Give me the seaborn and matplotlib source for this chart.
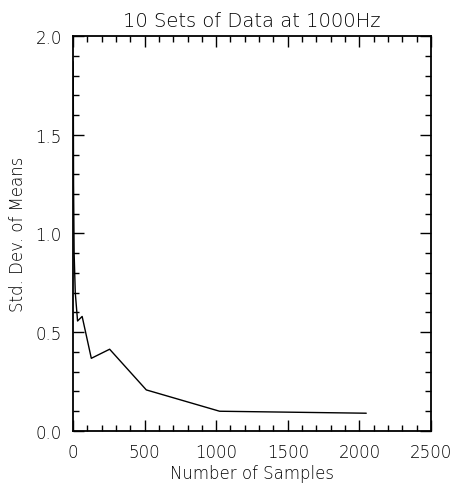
import numpy as np
import pandas as pd
import matplotlib
matplotlib.use("Agg")
import matplotlib.pyplot as plt
import seaborn as sns
from matplotlib.ticker import MultipleLocator, FormatStrFormatter

# number of samples averaged, and std dev of the 10 means
n_samples = [1, 2, 4, 8, 16, 32, 64, 128, 256, 512, 1024, 2048]
std_means = [1.87, 1.79, 1.25, 0.90, 0.70, 0.557, 0.58, 0.368, 0.414, 0.208, 0.10, 0.09]

data = pd.DataFrame({"n": n_samples, "sd": std_means})

sns.set_style("ticks")
plt.rcParams['font.family'] = ['DejaVu Sans']
plt.rcParams['font.weight'] = 'light'

fig = plt.figure(figsize=(4.55, 4.85), dpi=100)
ax = fig.add_axes([0.1604, 0.1093, 0.7868, 0.8144])

sns.lineplot(data=data, x="n", y="sd", color="black", linewidth=1.0, ax=ax)

ax.set_xlim(0, 2500)
ax.set_ylim(0, 2.0)
ax.xaxis.set_major_locator(MultipleLocator(500))
ax.xaxis.set_minor_locator(MultipleLocator(100))
ax.yaxis.set_major_locator(MultipleLocator(0.5))
ax.yaxis.set_minor_locator(MultipleLocator(0.1))
ax.yaxis.set_major_formatter(FormatStrFormatter('%.1f'))

ax.tick_params(which='both', top=True, right=True, direction='in',
               color='black', labelsize=12, labelcolor='black')
ax.tick_params(which='major', length=8, width=1.0)
ax.tick_params(axis='x', which='major', pad=9)
ax.tick_params(axis='y', which='major', pad=8)
ax.tick_params(which='minor', length=4, width=1.0)
for s in ax.spines.values():
    s.set_linewidth(1.3)
    s.set_color('black')

ax.set_xlabel("Number of Samples", fontsize=12, color='black', labelpad=2,
              fontweight='light')
ax.set_ylabel("Std. Dev. of Means", fontsize=12, color='black', labelpad=6,
              fontweight='light')
ax.set_title("10 Sets of Data at 1000Hz", fontsize=14, color='black', pad=7,
             fontweight='light')

fig.savefig("out.png", dpi=100, facecolor="white")
